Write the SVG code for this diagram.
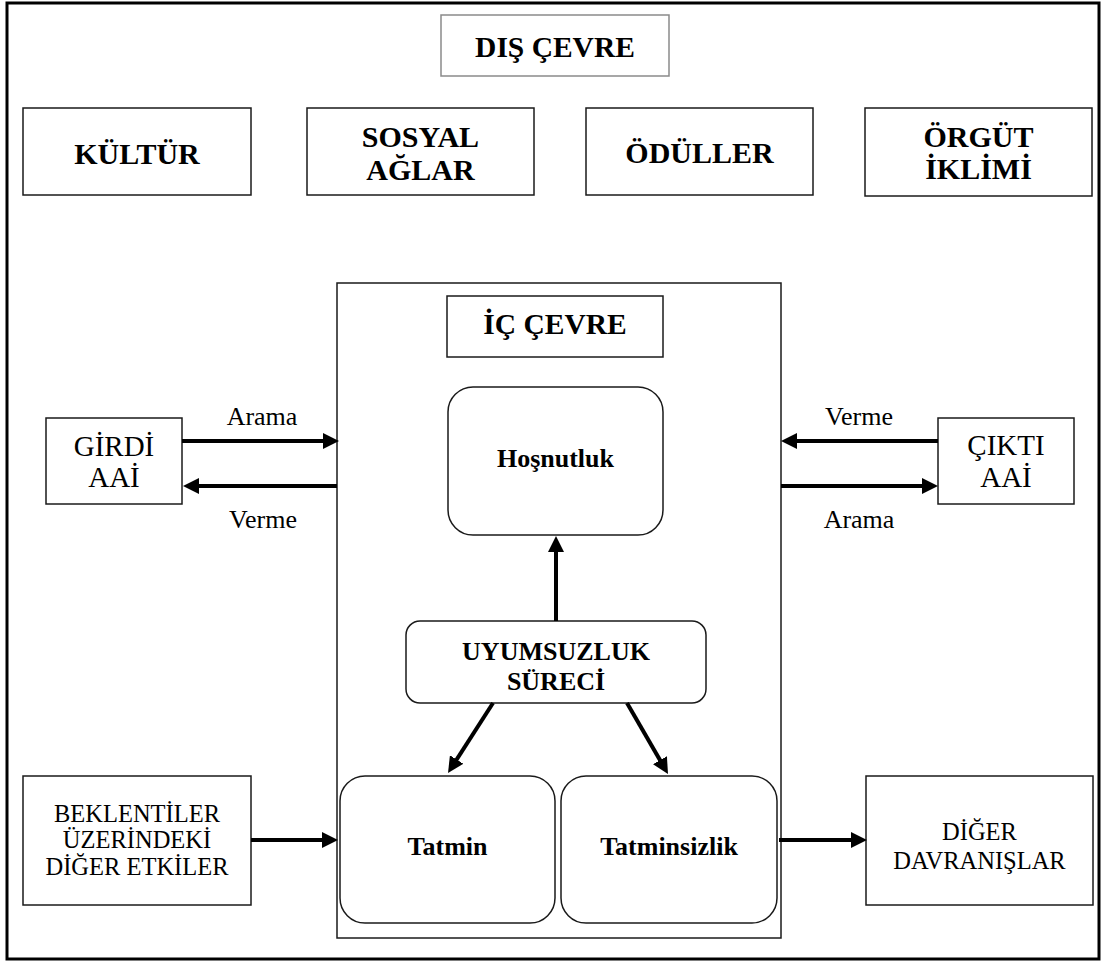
<svg xmlns="http://www.w3.org/2000/svg" width="1102" height="962" viewBox="0 0 1102 962">
  <style>
    .box { fill: #fff; stroke: #1a1a1a; stroke-width: 1.5; }
    .soft { fill: #fff; stroke: #8a8a8a; stroke-width: 1.5; }
    .frame { fill: none; stroke: #000; stroke-width: 3; }
    .arrow { stroke: #000; stroke-width: 4; fill: none; marker-end: url(#head); }
    .b { font-family: "Liberation Serif", "Times New Roman", serif; font-weight: bold; fill: #000; text-anchor: middle; }
    .r { font-family: "Liberation Serif", "Times New Roman", serif; fill: #000; text-anchor: middle; }
  </style>
  <defs>
    <marker id="head" viewBox="0 0 16 16" refX="4" refY="8" markerWidth="16" markerHeight="16" markerUnits="userSpaceOnUse" orient="auto">
      <path d="M0,0 L16,8 L0,16 z" fill="#000"/>
    </marker>
  </defs>

  <rect width="1102" height="962" fill="#fff"/>

  <!-- outer frame -->
  <rect class="frame" x="7" y="3" width="1092" height="956"/>

  <!-- external environment -->
  <g id="dis-cevre">
    <rect class="soft" x="441" y="15" width="228" height="61"/>
    <text class="b" x="555" y="57" font-size="29.5">DIŞ ÇEVRE</text>
  </g>
  <g id="kultur">
    <rect class="box" x="23" y="108" width="228" height="87"/>
    <text class="b" x="137" y="164" font-size="30">KÜLTÜR</text>
  </g>
  <g id="sosyal-aglar">
    <rect class="box" x="307" y="108" width="227" height="87"/>
    <text class="b" x="420.5" y="147" font-size="30">SOSYAL</text>
    <text class="b" x="420.5" y="180" font-size="30">AĞLAR</text>
  </g>
  <g id="oduller">
    <rect class="box" x="586" y="108" width="227" height="87"/>
    <text class="b" x="699.5" y="163" font-size="30">ÖDÜLLER</text>
  </g>
  <g id="orgut-iklimi">
    <rect class="box" x="865" y="108" width="227" height="88"/>
    <text class="b" x="978.5" y="147" font-size="30">ÖRGÜT</text>
    <text class="b" x="978.5" y="179" font-size="30">İKLİMİ</text>
  </g>

  <!-- internal environment -->
  <g id="ic-cevre-alan">
    <rect class="box" x="337" y="283" width="444" height="655"/>
  </g>
  <g id="ic-cevre">
    <rect class="box" x="447" y="296" width="216" height="61"/>
    <text class="b" x="555" y="334" font-size="29.5">İÇ ÇEVRE</text>
  </g>
  <g id="hosnutluk">
    <rect class="box" x="448" y="387" width="215" height="148" rx="25" ry="25"/>
    <text class="b" x="555.5" y="467" font-size="26">Hoşnutluk</text>
  </g>
  <g id="uyumsuzluk">
    <rect class="box" x="406" y="621" width="300" height="82" rx="14" ry="14"/>
    <text class="b" x="556" y="660" font-size="26">UYUMSUZLUK</text>
    <text class="b" x="556" y="690" font-size="26">SÜRECİ</text>
  </g>
  <g id="tatmin">
    <rect class="box" x="340" y="776" width="215" height="147" rx="25" ry="25"/>
    <text class="b" x="447.5" y="855" font-size="26">Tatmin</text>
  </g>
  <g id="tatminsizlik">
    <rect class="box" x="561" y="776" width="216" height="147" rx="25" ry="25"/>
    <text class="b" x="669" y="855" font-size="26">Tatminsizlik</text>
  </g>

  <!-- side inputs / outputs -->
  <g id="girdi">
    <rect class="box" x="46" y="418" width="136" height="86"/>
    <text class="r" x="114" y="456" font-size="29">GİRDİ</text>
    <text class="r" x="114" y="487" font-size="29">AAİ</text>
  </g>
  <g id="cikti">
    <rect class="box" x="938" y="418" width="136" height="86"/>
    <text class="r" x="1006" y="455" font-size="29">ÇIKTI</text>
    <text class="r" x="1006" y="487" font-size="29">AAİ</text>
  </g>
  <g id="beklentiler">
    <rect class="box" x="23" y="776" width="228" height="129"/>
    <text class="r" x="137" y="822" font-size="24.5">BEKLENTİLER</text>
    <text class="r" x="137" y="848" font-size="24.5">ÜZERİNDEKİ</text>
    <text class="r" x="137" y="875" font-size="24.5">DİĞER ETKİLER</text>
  </g>
  <g id="diger-davranislar">
    <rect class="box" x="866" y="776" width="227" height="129"/>
    <text class="r" x="979.5" y="840" font-size="24.5">DİĞER</text>
    <text class="r" x="979.5" y="869" font-size="24.5">DAVRANIŞLAR</text>
  </g>

  <!-- connectors -->
  <g id="connectors">
    <line class="arrow" x1="182" y1="441" x2="327" y2="441"/>
    <line class="arrow" x1="337" y1="486" x2="195" y2="486"/>
    <line class="arrow" x1="938" y1="441" x2="793" y2="441"/>
    <line class="arrow" x1="781" y1="486" x2="926" y2="486"/>
    <line class="arrow" x1="251" y1="840" x2="326" y2="840"/>
    <line class="arrow" x1="779" y1="840" x2="855" y2="840"/>
    <line class="arrow" x1="556" y1="621" x2="556" y2="548"/>
    <line class="arrow" x1="493" y1="703" x2="454.5" y2="762.9"/>
    <line class="arrow" x1="627" y1="703" x2="662" y2="763.6"/>
    <text class="r" x="262" y="425" font-size="26">Arama</text>
    <text class="r" x="263" y="528" font-size="26">Verme</text>
    <text class="r" x="859" y="425" font-size="26">Verme</text>
    <text class="r" x="859" y="528" font-size="26">Arama</text>
  </g>
</svg>
